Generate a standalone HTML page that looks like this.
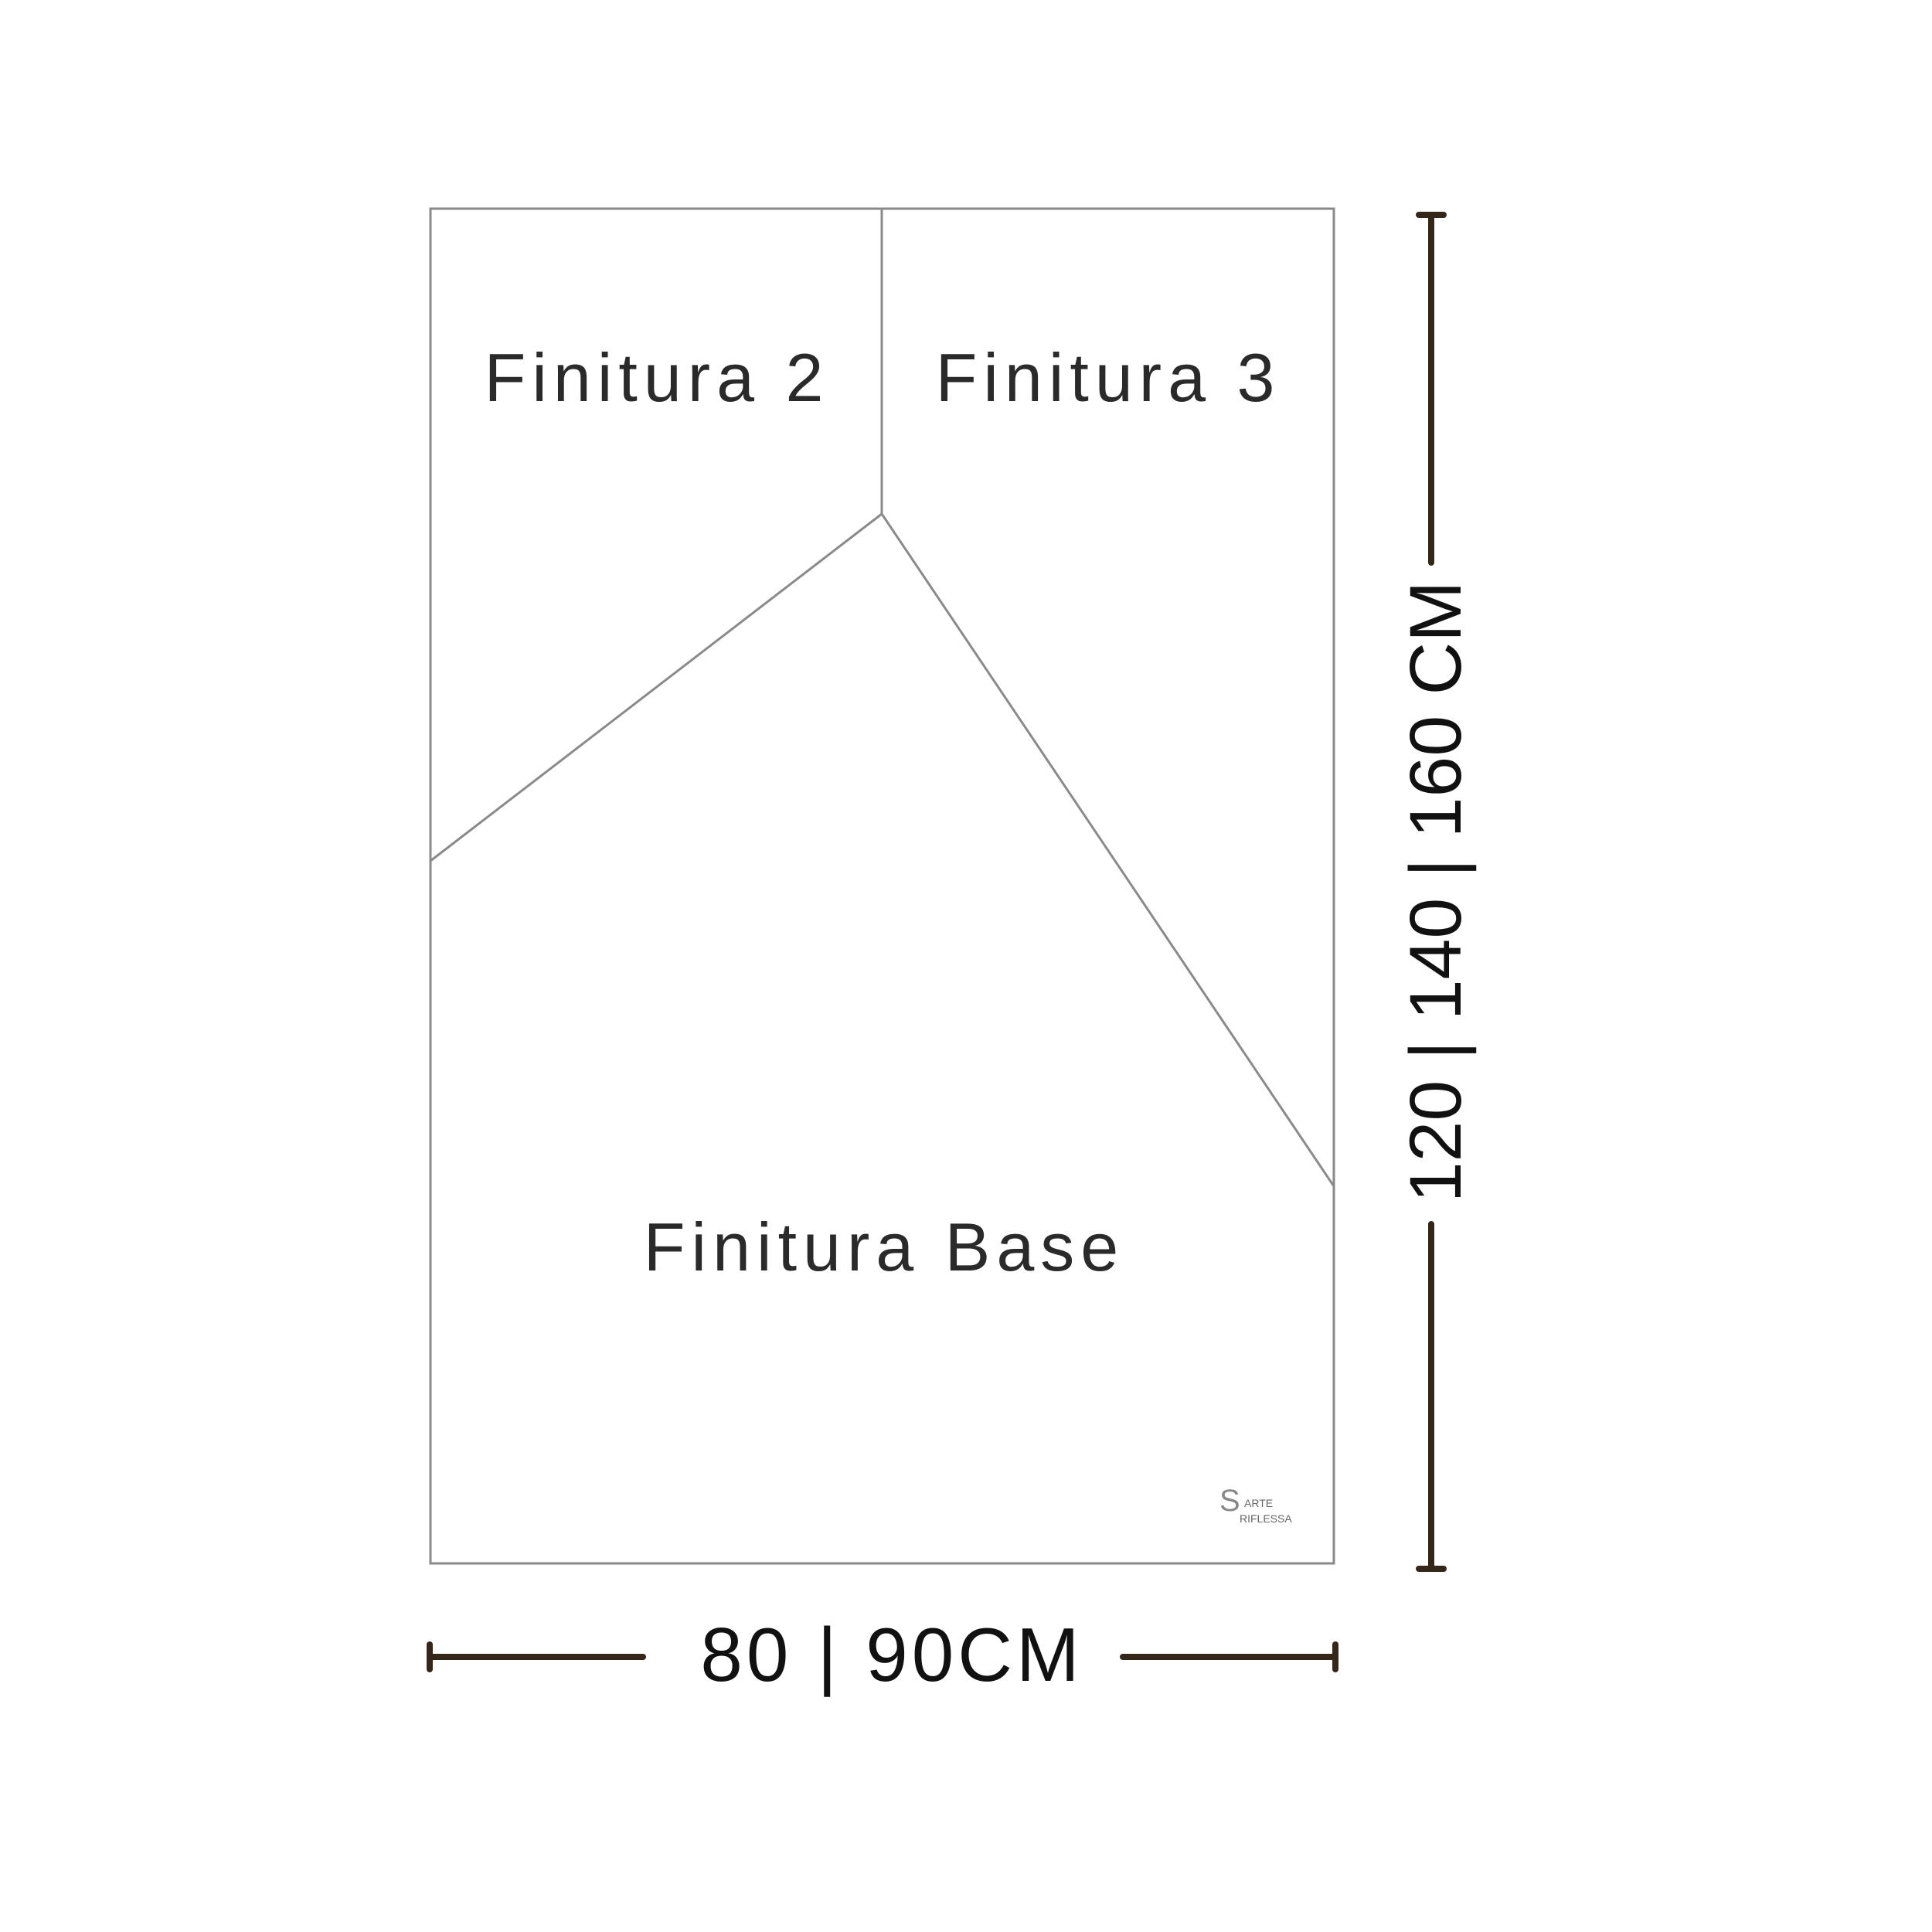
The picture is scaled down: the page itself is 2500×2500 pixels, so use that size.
<!DOCTYPE html>
<html><head><meta charset="utf-8"><style>
html,body{margin:0;padding:0;background:#fff;}
svg{display:block}
</style></head><body>
<svg width="2500" height="2500" viewBox="0 0 2500 2500" xmlns="http://www.w3.org/2000/svg">
<rect x="557" y="270" width="1169" height="1753" fill="none" stroke="#8a8a8a" stroke-width="3"/>
<line x1="1141" y1="270" x2="1141" y2="665" stroke="#8a8a8a" stroke-width="3"/>
<line x1="1141" y1="665" x2="557" y2="1114" stroke="#8a8a8a" stroke-width="3"/>
<line x1="1141" y1="665" x2="1726" y2="1535" stroke="#8a8a8a" stroke-width="3"/>
<g font-family="Liberation Sans, sans-serif" fill="#2a2a2a" font-size="88" letter-spacing="8" text-anchor="middle">
<text x="850" y="519">Finitura 2</text>
<text x="1434" y="519">Finitura 3</text>
<text x="1144" y="1644">Finitura Base</text>
</g>
<g stroke="#35261a" stroke-width="8" stroke-linecap="round">
<line x1="1852" y1="278" x2="1852" y2="728"/>
<line x1="1852" y1="1584" x2="1852" y2="2030"/>
<line x1="1836" y1="278" x2="1868" y2="278"/>
<line x1="1836" y1="2030" x2="1868" y2="2030"/>
<line x1="556" y1="2144" x2="832" y2="2144"/>
<line x1="1453" y1="2144" x2="1728" y2="2144"/>
<line x1="556" y1="2128" x2="556" y2="2160"/>
<line x1="1728" y1="2128" x2="1728" y2="2160"/>
</g>
<g font-family="Liberation Sans, sans-serif" fill="#111" text-anchor="middle">
<text x="1154" y="2175" font-size="98" letter-spacing="5">80 | 90CM</text>
<text transform="translate(1890,1154) rotate(-90)" x="0" y="0" font-size="95">120 | 140 | 160 CM</text>
</g>
<g font-family="Liberation Sans, sans-serif" fill="#666" font-size="14">
<text x="1578" y="1955" font-size="40" fill="#888">S</text>
<text x="1610" y="1950">ARTE</text>
<text x="1604" y="1970">RIFLESSA</text>
</g>
</svg>
</body></html>
